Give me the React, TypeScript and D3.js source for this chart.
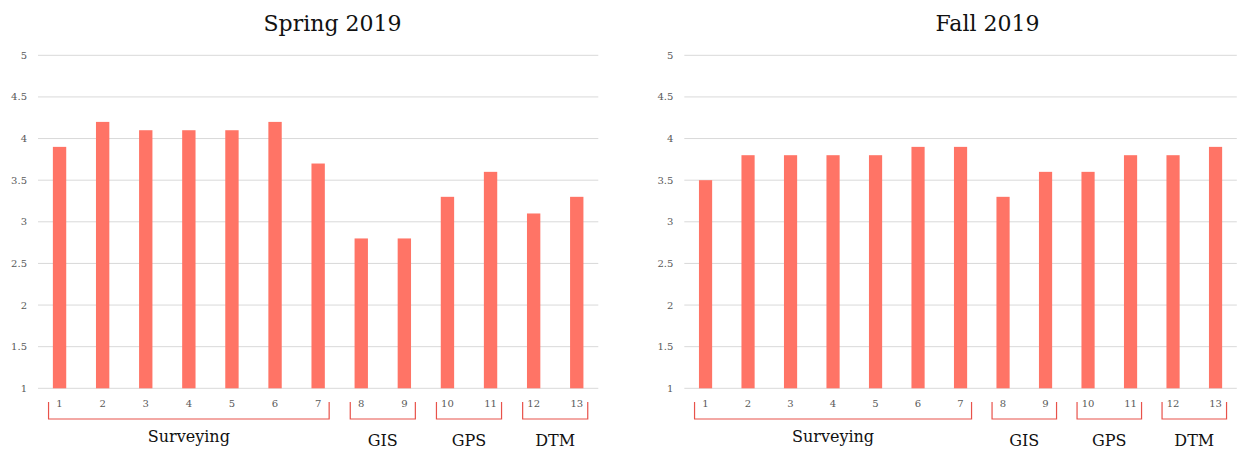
import React from 'react'
import { scaleBand, scaleLinear } from 'd3'

const categories = ['1', '2', '3', '4', '5', '6', '7', '8', '9', '10', '11', '12', '13']
const springValues = [3.9, 4.2, 4.1, 4.1, 4.1, 4.2, 3.7, 2.8, 2.8, 3.3, 3.6, 3.1, 3.3]
const fallValues = [3.5, 3.8, 3.8, 3.8, 3.8, 3.9, 3.9, 3.3, 3.6, 3.6, 3.8, 3.8, 3.9]
const yTicks = [1, 1.5, 2, 2.5, 3, 3.5, 4, 4.5, 5]
const groupNames = ['Surveying', 'GIS', 'GPS', 'DTM']
const groupStarts = ['1', '8', '10', '12']
const groupEnds = ['7', '9', '11', '13']

const FONT = '"DejaVu Serif", serif'
const BAR = '#ff7466'
const BRACKET = '#e8524a'

function Panel({ title, values, x0, x1, titleX }) {
	const x = scaleBand().domain(categories).range([x0, x1]).paddingInner(0.69).paddingOuter(0.345)
	const y = scaleLinear().domain([1, 5]).range([388.3, 55.3])

	return (
		<g>
			<text x={titleX} y={31} textAnchor="middle" fontSize={22} fontFamily={FONT} fill="#111">
				{title}
			</text>
			{yTicks.map((t) => (
				<g key={t}>
					<line x1={x0} x2={x1} y1={y(t)} y2={y(t)} stroke="#d9d9d9" strokeWidth={1} />
					<text x={x0 - 11} y={y(t)} dy="0.35em" textAnchor="end" fontSize={10} fontFamily={FONT} fill="#595959">
						{t}
					</text>
				</g>
			))}
			{values.map((v, i) => (
				<rect
					key={i}
					x={x(categories[i])}
					width={x.bandwidth()}
					y={y(v)}
					height={y(1) - y(v)}
					fill={BAR}
				/>
			))}
			{categories.map((c) => (
				<text
					key={c}
					x={x(c) + x.bandwidth() / 2}
					y={403.5}
					dy="0.35em"
					textAnchor="middle"
					fontSize={10}
					fontFamily={FONT}
					fill="#595959"
				>
					{c}
				</text>
			))}
			{groupNames.map((g, i) => {
				const a = x(groupStarts[i]) + x.bandwidth() / 2 - 11
				const b = x(groupEnds[i]) + x.bandwidth() / 2 + 11
				return (
					<g key={g}>
						<path
							d={`M${a},402 V419 H${b} V402`}
							fill="none"
							stroke={BRACKET}
							strokeWidth={1.2}
						/>
						<text
							x={(a + b) / 2}
							y={i === 0 ? 442 : 446}
							textAnchor="middle"
							fontSize={16}
							fontFamily={FONT}
							fill="#111"
						>
							{g}
						</text>
					</g>
				)
			})}
		</g>
	)
}

export default function App() {
	return (
		<svg width={1238} height={452} style={{ position: 'absolute', left: 0, top: 0, background: '#fff' }}>
			<Panel title="Spring 2019" values={springValues} x0={38} x1={598.3} titleX={332.5} />
			<Panel title="Fall 2019" values={fallValues} x0={684.3} x1={1236.8} titleX={987.5} />
		</svg>
	)
}
